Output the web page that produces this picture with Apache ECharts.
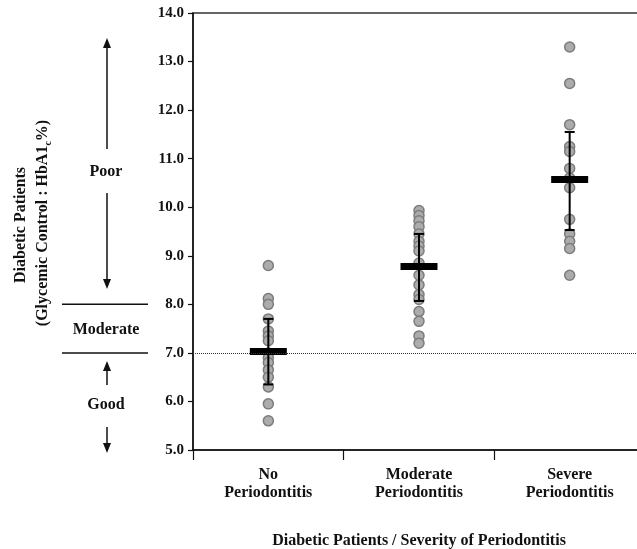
<!DOCTYPE html>
<html>
<head>
<meta charset="utf-8">
<script src="https://cdn.jsdelivr.net/npm/echarts@6/dist/echarts.min.js"></script>
<style>
html,body{margin:0;padding:0;background:#fff;}
#c{width:637px;height:549px;}
</style>
</head>
<body>
<div id="c"></div>
<script>
// ---- data ----
const categories = ['No\nPeriodontitis', 'Moderate\nPeriodontitis', 'Severe\nPeriodontitis'];
const noPeriodontitis = [8.8, 8.12, 8.0, 7.7, 7.45, 7.35, 7.25, 7.0, 6.9, 6.8, 6.65, 6.5, 6.3, 5.95, 5.6];
const moderatePeriodontitis = [9.93, 9.83, 9.72, 9.6, 9.45, 9.3, 9.2, 9.1, 8.85, 8.6, 8.4, 8.2, 8.1, 7.85, 7.65, 7.35, 7.2];
const severePeriodontitis = [13.3, 12.55, 11.7, 11.25, 11.15, 10.8, 10.6, 10.4, 9.75, 9.45, 9.3, 9.15, 8.6];
const groupMeans = [7.03, 8.78, 10.57];
const sdLow = [6.35, 8.07, 9.53];
const sdHigh = [7.7, 9.45, 11.55];
const yMin = 5, yMax = 14, yStep = 1;
const referenceLevel = 7.0;
const bandLevels = [8.0, 7.0];

const FONT = '"Liberation Serif", "Times New Roman", "DejaVu Serif", serif';

const groups = [noPeriodontitis, moderatePeriodontitis, severePeriodontitis];
const points = [];
groups.forEach((arr, i) => arr.forEach(v => points.push([i, v])));
const meanData = groupMeans.map((m, i) => [i, m]);
const sdData = sdLow.map((lo, i) => [i, lo, sdHigh[i]]);

const chart = echarts.init(document.getElementById('c'), null, {renderer: 'canvas'});

const option = {
  animation: false,
  backgroundColor: '#fff',
  grid: {
    left: 193, top: 13, right: -8, bottom: 99,
    outerBoundsMode: 'none',
    containLabel: false,
    show: true, borderColor: '#333', borderWidth: 1.5, backgroundColor: 'transparent'
  },
  xAxis: {
    type: 'category',
    data: categories,
    boundaryGap: true,
    axisLine: {lineStyle: {color: '#111', width: 1.5}},
    axisTick: {show: true, length: 10, lineStyle: {color: '#111', width: 1.2}},
    axisLabel: {
      margin: 16, color: '#111', fontFamily: FONT, fontWeight: 'bold',
      fontSize: 16, lineHeight: 18
    },
    name: 'Diabetic Patients / Severity of Periodontitis',
    nameLocation: 'middle',
    nameGap: 83,
    nameTextStyle: {color: '#111', fontFamily: FONT, fontWeight: 'bold', fontSize: 16}
  },
  yAxis: {
    type: 'value',
    min: yMin, max: yMax, interval: yStep,
    splitLine: {show: false},
    axisLine: {show: true, lineStyle: {color: '#111', width: 1.5}},
    axisTick: {show: true, length: 5, lineStyle: {color: '#111', width: 1.2}},
    axisLabel: {
      margin: 9, color: '#111', fontFamily: FONT, fontWeight: 'bold', fontSize: 15,
      formatter: v => v.toFixed(1)
    }
  },
  series: [
    {
      type: 'scatter',
      data: points,
      symbol: 'circle',
      symbolSize: 10,
      itemStyle: {color: '#acacac', borderColor: '#7c7c7c', borderWidth: 1.5, opacity: 1},
      z: 2,
      markLine: {
        silent: true, symbol: 'none',
        label: {show: false},
        lineStyle: {type: 'dotted', color: '#333', width: 1},
        data: [{yAxis: referenceLevel}]
      }
    },
    {
      type: 'custom',
      data: sdData,
      z: 3,
      renderItem: function (params, api) {
        const top = api.coord([api.value(0), api.value(2)]);
        const bot = api.coord([api.value(0), api.value(1)]);
        const cap = 5;
        const st = {stroke: '#000', lineWidth: 2};
        return {
          type: 'group',
          children: [
            {type: 'line', shape: {x1: top[0], y1: top[1], x2: bot[0], y2: bot[1]}, style: st},
            {type: 'line', shape: {x1: top[0] - cap, y1: top[1], x2: top[0] + cap, y2: top[1]}, style: st},
            {type: 'line', shape: {x1: bot[0] - cap, y1: bot[1], x2: bot[0] + cap, y2: bot[1]}, style: st}
          ]
        };
      }
    },
    {
      type: 'scatter',
      data: meanData,
      symbol: 'rect',
      symbolSize: [37, 7],
      itemStyle: {color: '#000', opacity: 1},
      z: 4
    }
  ]
};
chart.setOption(option);

// ---- left annotation (glycemic control bands) ----
const yPx = v => chart.convertToPixel({yAxisIndex: 0}, v);
const yHi = yPx(bandLevels[0]);
const yLo = yPx(bandLevels[1]);
const ax = 107;
const lineSt = {stroke: '#111', lineWidth: 1.5};
const textSt = (t) => ({text: t, fill: '#111', font: 'bold 16px ' + FONT, align: 'center', verticalAlign: 'middle'});
function arrow(x, y1, y2) {
  const dir = y2 > y1 ? 1 : -1;
  const hl = 10, hw = 4;
  return [
    {type: 'line', shape: {x1: x, y1: y1, x2: x, y2: y2 - dir * hl}, style: lineSt},
    {type: 'polygon', shape: {points: [[x, y2], [x - hw, y2 - dir * hl], [x + hw, y2 - dir * hl]]}, style: {fill: '#111'}}
  ];
}
const graphics = [
  {type: 'line', shape: {x1: 62, y1: yHi, x2: 148, y2: yHi}, style: lineSt},
  {type: 'line', shape: {x1: 62, y1: yLo, x2: 148, y2: yLo}, style: lineSt},
  {type: 'text', x: 106, y: 172, style: textSt('Poor')},
  {type: 'text', x: 106, y: (yHi + yLo) / 2 + 1, style: textSt('Moderate')},
  {type: 'text', x: 106, y: 405, style: textSt('Good')},
  ...arrow(ax, 149, 38),
  ...arrow(ax, 193, 289),
  ...arrow(ax, 385, 361),
  ...arrow(ax, 427, 453),
  {type: 'text', x: 21, y: 225, rotation: Math.PI / 2,
   style: textSt('Diabetic Patients')},
  {type: 'text', x: 43, y: 223, rotation: Math.PI / 2,
   style: {
     text: '(Glycemic Control : HbA1{sub|c}%)',
     fill: '#111', font: 'bold 16px ' + FONT, align: 'center', verticalAlign: 'middle',
     lineHeight: 20,
     rich: {sub: {fontSize: 10, fontWeight: 'bold', fontFamily: FONT, lineHeight: 10, verticalAlign: 'bottom', fill: '#111'}}
   }}
];
chart.setOption({graphic: graphics.map(g => Object.assign({silent: true, z: 10}, g))});
</script>
</body>
</html>
